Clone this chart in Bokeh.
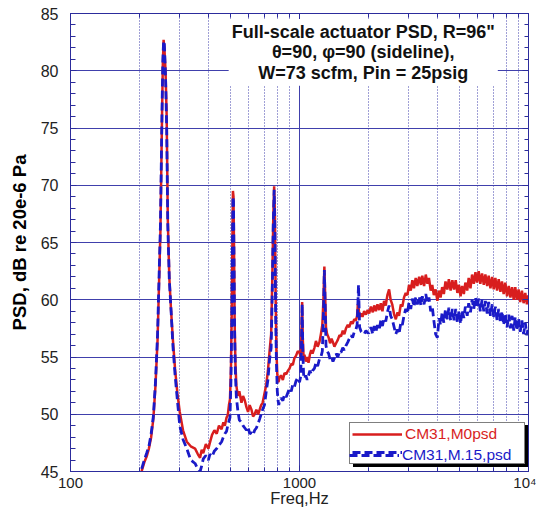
from bokeh.plotting import figure
from bokeh.models import (Legend, LegendItem, LinearAxis, LogAxis, FixedTicker,
                          SingleIntervalTicker, Label, CustomJSTickFormatter)
from bokeh.embed import file_html
from bokeh.resources import INLINE

# ---------------- data ----------------
freq_hz = [
    200, 205, 210, 215, 220, 225, 230, 235, 240, 244,
    247, 249, 251, 253, 255, 257, 260, 263, 266, 270,
    275, 280, 286, 293, 300, 310, 322, 335, 350, 360,
    368, 374, 380, 390, 400, 406, 415, 425, 435, 445,
    457, 465, 472, 480, 486, 492, 497, 502, 506, 509,
    512, 515, 518, 521, 525, 530, 538, 546, 558, 567,
    577, 587, 596, 606, 617, 627, 637, 648, 660, 670,
    680, 690, 703, 716, 728, 740, 752, 761, 768, 775,
    781, 787, 793, 800, 806, 812, 818, 830, 846, 860,
    875, 890, 905, 920, 935, 950, 965, 983, 1000, 1012,
    1020, 1027, 1034, 1042, 1051, 1065, 1080, 1095, 1110, 1125,
    1140, 1162, 1180, 1200, 1222, 1240, 1258, 1272, 1284, 1296,
    1305, 1320, 1340, 1360, 1380, 1400, 1420, 1444, 1470, 1495,
    1518, 1545, 1570, 1596, 1625, 1650, 1678, 1705, 1735, 1764,
    1785, 1798, 1810, 1830, 1860, 1884, 1915, 1950, 1985, 2015,
    2050, 2090, 2120, 2156, 2190, 2230, 2265, 2302, 2340, 2380,
    2420, 2462, 2500, 2540, 2590, 2634, 2680, 2720, 2770, 2812,
    2860, 2910, 2960, 3008, 3060, 3110, 3160, 3217, 3270, 3330,
    3390, 3437, 3500, 3560, 3620, 3675, 3740, 3800, 3860, 3930,
    4000, 4070, 4130, 4198, 4270, 4340, 4420, 4490, 4570, 4650,
    4730, 4810, 4890, 4970, 5050, 5129, 5220, 5300, 5400, 5480,
    5580, 5670, 5770, 5866, 5960, 6060, 6160, 6270, 6380, 6482,
    6600, 6700, 6820, 6940, 7050, 7166, 7290, 7410, 7540, 7660,
    7790, 7920, 8060, 8200, 8340, 8480, 8620, 8755, 8900, 9050,
    9200, 9360, 9520, 9680, 9840, 10000,
]

psd_m0 = [
    44.0, 45.1, 45.8, 46.3, 47.0, 48.0, 49.6, 52.5, 56.5, 62.0,
    66.0, 71.0, 76.0, 80.5, 82.7, 82.0, 80.0, 76.0, 67.0, 62.0,
    59.0, 56.5, 54.0, 51.8, 50.2, 48.6, 47.6, 47.2, 47.0, 46.5,
    46.2, 46.9, 46.6, 47.4, 47.0, 47.5, 48.2, 48.6, 48.3, 49.0,
    48.7, 49.3, 49.0, 49.7, 49.9, 50.8, 51.3, 54.0, 59.0, 64.5,
    69.5, 69.0, 64.0, 58.0, 54.5, 52.5, 51.6, 52.0, 51.0, 51.6,
    51.2, 50.6, 50.2, 50.8, 50.4, 49.8, 50.0, 50.4, 50.0, 50.4,
    50.8, 51.0, 51.8, 52.6, 53.8, 55.5, 57.0, 62.0, 67.0, 69.9,
    67.5, 60.0, 55.5, 53.5, 52.8, 52.9, 53.2, 53.4, 53.0, 53.6,
    53.5, 53.8, 54.0, 54.4, 54.3, 54.9, 55.1, 55.5, 55.4, 55.0,
    57.0, 59.8, 56.5, 55.0, 55.2, 54.6, 55.0, 54.5, 55.2, 55.6,
    55.3, 55.8, 56.4, 55.9, 56.3, 57.0, 57.8, 60.0, 62.9, 60.0,
    57.6, 57.0, 56.7, 56.2, 56.6, 56.3, 55.9, 56.2, 56.5, 56.9,
    56.8, 57.3, 57.0, 57.5, 57.8, 57.6, 58.1, 57.9, 58.3, 58.2,
    58.6, 59.6, 59.3, 58.5, 58.8, 58.5, 59.0, 58.7, 59.1, 58.8,
    59.4, 58.9, 59.5, 59.0, 59.6, 59.1, 59.7, 59.0, 59.9, 59.5,
    60.4, 60.9, 60.0, 59.6, 58.7, 58.3, 58.9, 58.6, 59.6, 59.4,
    60.2, 60.6, 60.4, 61.3, 60.8, 61.7, 61.0, 61.9, 61.2, 62.0,
    61.3, 62.1, 61.2, 62.2, 61.4, 61.9, 60.8, 61.3, 60.4, 60.9,
    59.9, 60.8, 60.2, 61.1, 60.5, 61.6, 60.9, 61.8, 60.8, 61.7,
    60.9, 61.7, 60.6, 61.3, 60.3, 61.2, 60.5, 61.5, 60.8, 61.9,
    61.0, 62.2, 61.4, 62.4, 61.5, 62.5, 61.4, 62.3, 61.3, 62.2,
    61.2, 62.1, 61.0, 62.0, 60.9, 61.9, 60.8, 61.8, 60.7, 61.6,
    60.5, 61.5, 60.3, 61.2, 60.2, 61.1, 60.0, 61.1, 60.0, 60.9,
    59.8, 60.8, 59.7, 60.6, 59.6, 60.4,
]

psd_m15 = [
    44.2, 45.3, 46.0, 46.6, 47.2, 48.3, 49.8, 52.8, 57.0, 62.5,
    66.5, 71.5, 76.5, 80.8, 82.6, 82.3, 79.5, 75.0, 66.5, 61.8,
    59.0, 56.0, 53.5, 51.2, 49.0, 47.8, 47.0, 46.0, 45.7, 45.2,
    45.0, 45.5, 46.1, 46.4, 46.0, 46.5, 46.3, 46.8, 47.0, 47.3,
    47.6, 48.0, 48.3, 48.5, 49.0, 49.4, 49.7, 53.0, 58.0, 64.0,
    69.0, 68.6, 63.0, 57.0, 53.5, 51.5, 50.3, 49.5, 49.3, 49.0,
    48.8, 48.6, 48.9, 48.3, 48.4, 48.2, 48.6, 48.8, 49.2, 49.6,
    50.0, 50.4, 50.8, 52.0, 53.0, 54.8, 55.8, 61.0, 66.5, 69.6,
    66.0, 58.5, 54.5, 52.0, 51.2, 50.8, 51.2, 51.4, 51.2, 51.7,
    51.5, 51.9, 52.3, 52.0, 52.6, 52.4, 52.9, 53.2, 52.8, 53.3,
    56.0, 59.6, 55.5, 53.5, 53.1, 53.4, 53.0, 53.4, 53.8, 53.5,
    53.8, 54.0, 54.5, 54.2, 54.8, 55.0, 55.5, 58.5, 62.6, 59.0,
    56.0, 55.5, 55.3, 54.8, 55.0, 54.6, 54.9, 55.3, 55.0, 55.5,
    55.4, 55.8, 55.6, 56.0, 56.3, 56.6, 56.9, 56.7, 57.2, 57.4,
    57.8, 59.5, 61.3, 57.6, 57.2, 57.1, 57.0, 57.3, 57.1, 57.1,
    57.6, 57.0, 57.7, 57.2, 57.8, 57.4, 58.2, 57.7, 58.4, 58.1,
    58.9, 59.5, 58.6, 58.3, 57.6, 57.0, 57.4, 57.0, 58.0, 57.8,
    58.6, 59.2, 58.8, 59.8, 59.2, 60.1, 59.4, 60.2, 59.6, 60.3,
    59.5, 60.3, 59.6, 60.5, 59.7, 60.2, 59.0, 59.4, 58.2, 57.0,
    56.7, 58.4, 57.8, 58.9, 58.0, 59.2, 58.3, 59.3, 58.2, 59.2,
    58.2, 59.2, 58.0, 59.0, 57.9, 59.1, 58.4, 59.4, 58.6, 59.7,
    58.9, 60.0, 59.2, 60.2, 59.3, 60.1, 59.0, 60.0, 59.0, 59.9,
    58.8, 59.8, 58.6, 59.6, 58.5, 59.4, 58.2, 59.2, 58.0, 59.0,
    57.8, 58.8, 57.6, 58.7, 57.5, 58.6, 57.3, 58.5, 57.3, 58.4,
    57.2, 58.2, 57.0, 58.0, 56.9, 57.7,
]

series_labels = ["CM31,M0psd", "CM31,M.15,psd"]
x_major_ticks = [100, 1000, 10000]
x_tick_labels = {100: "100", 1000: "1000", 10000: "10\u2074"}
y_tick_interval = 5
title_lines = ['Full-scale actuator PSD, R=96"',
               "\u03b8=90, \u03c6=90 (sideline),",
               "W=73 scfm, Pin = 25psig"]

# ---------------- styling ----------------
FONT = "Liberation Sans"
RED = "#d81e1e"
BLUE = "#1a1ac8"
AXIS = "#2c2c9c"
GRID = "#4040ac"
TICKTXT = "#222222"

p = figure(width=536, height=509, x_axis_type="log",
           x_range=(100, 10000), y_range=(45, 85),
           output_backend="svg", toolbar_location=None,
           min_border_left=70, min_border_right=8,
           min_border_top=13, min_border_bottom=38,
           background_fill_color="white", border_fill_color="white")
p.outline_line_color = AXIS
p.outline_line_width = 1

minor_x = [m * d for d in (100, 1000) for m in range(2, 10)]
xticker = FixedTicker(ticks=x_major_ticks, minor_ticks=minor_x)
yticker = SingleIntervalTicker(interval=y_tick_interval, num_minor_ticks=5)

# bottom axis
xa = p.xaxis[0]
xa.ticker = xticker
xa.major_label_overrides = x_tick_labels
xa.axis_label = "Freq,Hz"
xa.axis_label_text_font = FONT
xa.axis_label_text_font_size = "16.5px"
xa.axis_label_text_font_style = "normal"
xa.axis_label_text_color = TICKTXT
xa.axis_label_standoff = -5
xa.major_label_text_font = FONT
xa.major_label_text_font_size = "15px"
xa.major_label_text_color = TICKTXT
xa.major_label_standoff = 2
xa.axis_line_color = AXIS
xa.major_tick_line_color = AXIS
xa.minor_tick_line_color = AXIS
xa.major_tick_in = 6
xa.major_tick_out = 0
xa.minor_tick_in = 4
xa.minor_tick_out = 0

# left axis
ya = p.yaxis[0]
ya.ticker = yticker
ya.axis_label = "PSD, dB re 20e-6 Pa"
ya.axis_label_text_font = FONT
ya.axis_label_text_font_size = "18.5px"
ya.axis_label_text_font_style = "bold"
ya.axis_label_text_color = "#000000"
ya.axis_label_standoff = 8
ya.major_label_text_font = FONT
ya.major_label_text_font_size = "16px"
ya.major_label_text_color = TICKTXT
ya.major_label_standoff = 12
ya.axis_line_color = AXIS
ya.major_tick_line_color = AXIS
ya.minor_tick_line_color = AXIS
ya.major_tick_in = 6
ya.major_tick_out = 0
ya.minor_tick_in = 5
ya.minor_tick_out = 0

# right and top axes: ticks only, no labels
blank = CustomJSTickFormatter(code="return ''")
ra = LinearAxis(ticker=yticker, formatter=blank,
                major_label_text_font_size="1px", major_label_standoff=0,
                axis_line_color=AXIS, major_tick_line_color=AXIS,
                minor_tick_line_color=AXIS, major_tick_in=6, major_tick_out=0,
                minor_tick_in=4, minor_tick_out=0)
p.add_layout(ra, "right")
ta = LogAxis(ticker=xticker, formatter=blank,
             major_label_text_font_size="1px", major_label_standoff=0,
             axis_line_color=AXIS, major_tick_line_color=AXIS,
             minor_tick_line_color=AXIS, major_tick_in=6, major_tick_out=0,
             minor_tick_in=4, minor_tick_out=0)
p.add_layout(ta, "above")

# grids
p.xgrid.ticker = xticker
p.xgrid.grid_line_color = GRID
p.xgrid.grid_line_width = 1
p.xgrid.minor_grid_line_color = GRID
p.xgrid.minor_grid_line_dash = "1 2"
p.xgrid.minor_grid_line_width = 1
p.ygrid.ticker = yticker
p.ygrid.grid_line_color = GRID
p.ygrid.grid_line_width = 1

# data lines
r_red = p.line(freq_hz, psd_m0, line_color=RED, line_width=2.5)
r_blue = p.line(freq_hz, psd_m15, line_color=BLUE, line_width=2.8,
                line_dash="8 4")

# title block inside the plot
title = Label(x=1898, y=81.6, text="\n".join(title_lines),
              text_align="center", text_baseline="middle",
              text_font=FONT, text_font_style="bold", text_font_size="18px",
              text_line_height=1.02, text_color="#111111",
              background_fill_color="white", padding=3)
p.add_layout(title)

# legend (shadow, box with red label, overlay with blue label)
common = dict(padding=2, spacing=0, glyph_width=50, glyph_height=18,
              label_height=18, label_width=117, label_standoff=3,
              label_text_font=FONT, label_text_font_size="15.5px",
              margin=0, border_line_width=1.5)
shadow = Legend(items=[LegendItem(label=" ", renderers=[r_red]),
                       LegendItem(label=" ", renderers=[r_blue])],
                location=(283, 4), background_fill_color="black",
                background_fill_alpha=1.0, border_line_color="black",
                label_text_color="black", **common)
box = Legend(items=[LegendItem(label=series_labels[0], renderers=[r_red]),
                    LegendItem(label=" ", renderers=[r_blue])],
             location=(279, 7), background_fill_color="white",
             background_fill_alpha=1.0, border_line_color="black",
             label_text_color=RED, **common)
over = Legend(items=[LegendItem(label=series_labels[1], renderers=[r_blue])],
              location=(279, 7), background_fill_alpha=0.0,
              border_line_color=None, label_text_color=BLUE, **common)
p.add_layout(shadow)
p.add_layout(box)
p.add_layout(over)

open("out.html", "w").write(file_html(p, INLINE))
